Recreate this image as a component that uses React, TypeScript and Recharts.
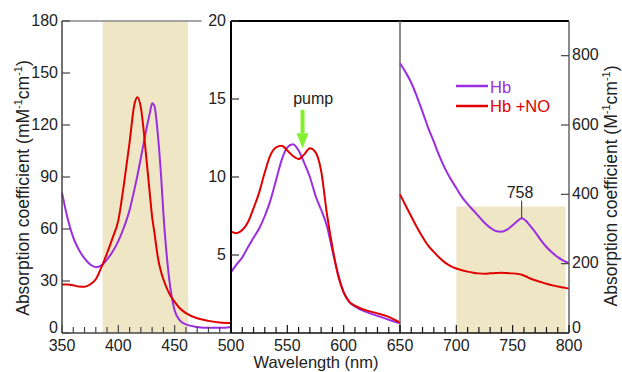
import React from 'react';
import { LineChart, Line, XAxis, YAxis, ReferenceArea, ReferenceLine, ReferenceDot } from 'recharts';

// ---- Panel 1: Soret region (350-500 nm), mM^-1 cm^-1
const soretNm = [350, 355, 360, 365, 370, 375, 380, 385, 390, 395, 400, 405, 410, 414, 417, 420, 425, 428, 430, 432, 435, 438, 440, 445, 450, 455, 460, 470, 480, 490, 500];
const soretHb = [81, 66, 55, 48, 43, 39.5, 38, 39, 42.5, 47, 53, 61, 71, 82, 91, 101, 118, 127, 132.5, 131, 115, 90, 69, 32, 13, 7, 5, 3.5, 3, 3, 3.5];
const soretHbNO = [28, 28, 27.5, 26.8, 26.7, 28, 31, 38, 46, 55, 65, 86, 110, 131, 136, 130, 100, 80, 67, 58, 44, 35, 31, 23, 18, 14, 11.5, 8.5, 7, 6, 5.7];

// ---- Panel 2: Q-band region (500-650 nm), mM^-1 cm^-1
const qNm = [500, 505, 510, 515, 520, 525, 530, 535, 540, 545, 550, 555, 560, 565, 570, 575, 580, 585, 590, 595, 600, 605, 610, 620, 630, 640, 650];
const qHb = [3.9, 4.4, 4.85, 5.5, 6.1, 6.7, 7.5, 8.5, 9.8, 11.1, 11.9, 12.1, 11.7, 10.9, 10.0, 8.8, 7.9, 6.9, 5.3, 3.8, 2.6, 2.0, 1.7, 1.35, 1.1, 0.85, 0.62];
const qHbNO = [6.5, 6.4, 6.6, 7.1, 8.0, 9.0, 10.3, 11.4, 11.9, 12.0, 11.7, 11.35, 11.15, 11.45, 11.85, 11.6, 10.4, 7.7, 5.5, 3.7, 2.6, 2.0, 1.75, 1.45, 1.26, 1.03, 0.66];

// ---- Panel 3: near-IR region (650-800 nm), M^-1 cm^-1
const nirNm = [650, 655, 660, 665, 670, 675, 680, 685, 690, 695, 700, 705, 710, 715, 720, 725, 730, 735, 740, 745, 750, 755, 758, 762, 765, 770, 775, 780, 785, 790, 795, 800];
const nirHb = [778, 752, 722, 682, 638, 592, 552, 510, 474, 444, 418, 392, 372, 354, 336, 318, 304, 294, 292, 298, 311, 325, 331, 323, 311, 291, 268, 248, 232, 219, 209, 202];
const nirHbNO = [400, 368, 336, 305, 277, 252, 234, 217, 203, 193, 186, 181, 177, 174, 172, 171, 172, 173, 174, 173, 172, 170, 168, 163, 158, 152, 147, 142, 138, 134, 131, 128];

// ---- Axis ticks
const soretXTicks = [350, 360, 370, 380, 390, 400, 410, 420, 430, 440, 450, 460, 470, 480, 490, 500];
const qXTicks = [500, 510, 520, 530, 540, 550, 560, 570, 580, 590, 600, 610, 620, 630, 640, 650];
const nirXTicks = [650, 660, 670, 680, 690, 700, 710, 720, 730, 740, 750, 760, 770, 780, 790, 800];
const soretYTicks = [0, 30, 60, 90, 120, 150, 180];
const qYTicks = [5, 10, 15, 20];
const nirYTicks = [0, 200, 400, 600, 800];

// ---- Shaded bands and annotations
const soretBand = { x1: 386, x2: 462, y1: 0, y2: 180 };
const nirBand = { x1: 700, x2: 797, y1: 0, y2: 365 };
const pumpLabel = { x: 573, y: 14.7, text: 'pump' };
const pumpArrow = { x: 563.5, top: 14.3, headTop: 12.8, tip: 11.84 };
const peakLabel = { x: 756.5, y: 389, text: '758' };
const peakLine = { x: 758, top: 382, bottom: 331 };

const HB_COLOR = '#9A2EE0';
const NO_COLOR = '#E00000';
const BAND_COLOR = '#EFE6C6';
const FONT = '"Liberation Sans", Arial, sans-serif';
const W = 622;
const H = 372;

const toRows = (nm: number[], hb: number[], no: number[]) =>
  nm.map((x, i) => ({ nm: x, hb: hb[i], hbno: no[i] }));

const soretData = toRows(soretNm, soretHb, soretHbNO);
const qData = toRows(qNm, qHb, qHbNO);
const nirData = toRows(nirNm, nirHb, nirHbNO);

const makeXTick = (skip: number[], color: string) => (props: any) => {
  const { x, y, payload } = props;
  const v = payload.value as number;
  const major = v % 50 === 0;
  return (
    <g>
      <line x1={x} x2={x} y1={y} y2={y - (major ? 8 : 6)} stroke={color} strokeWidth={1.2} />
      {major && !skip.includes(v) && (
        <text x={x} y={y + 18} textAnchor="middle" fontSize={16} fontFamily={FONT} fill="#222">
          {v}
        </text>
      )}
    </g>
  );
};

const makeYTick = (side: 'left' | 'right', color: string, gap: number) => (props: any) => {
  const { x, y, payload } = props;
  const dir = side === 'left' ? 1 : -1;
  const lift = payload.value === 0 ? 5 : 0;
  return (
    <g>
      <line x1={x} x2={x + dir * 8} y1={y} y2={y} stroke={color} strokeWidth={1.2} />
      <text
        x={x - dir * gap}
        y={y - lift}
        dy="0.3em"
        textAnchor={side === 'left' ? 'end' : 'start'}
        fontSize={16}
        fontFamily={FONT}
        fill="#222"
      >
        {payload.value}
      </text>
    </g>
  );
};

const abs: React.CSSProperties = { position: 'absolute', left: 0, top: 0 };

export default function App() {
  return (
    <div style={{ position: 'absolute', left: 0, top: 0, width: W, height: H, background: '#fff', fontFamily: FONT }}>
      {/* Panel 1 */}
      <div style={abs}>
        <LineChart width={W} height={H} data={soretData} margin={{ top: 21, right: 391, bottom: 0, left: 0 }}>
          <XAxis
            dataKey="nm"
            type="number"
            domain={[350, 500]}
            ticks={soretXTicks}
            interval={0}
            height={39}
            tickSize={0}
            tickMargin={0}
            tickLine={false}
            axisLine={{ stroke: '#444', strokeWidth: 1.5 }}
            tick={makeXTick([], '#444')}
          />
          <YAxis
            type="number"
            domain={[0, 180]}
            ticks={soretYTicks}
            interval={0}
            width={62}
            tickSize={0}
            tickMargin={0}
            tickLine={false}
            axisLine={{ stroke: '#444', strokeWidth: 1.5 }}
            tick={makeYTick('left', '#444', 4)}
          />
          <ReferenceArea {...soretBand} fill={BAND_COLOR} fillOpacity={1} stroke="none" />
          <ReferenceLine segment={[{ x: 350, y: 180 }, { x: 474, y: 180 }]} stroke="#888" strokeWidth={1.5} />
          <Line dataKey="hb" type="monotone" stroke={HB_COLOR} strokeWidth={2} dot={false} isAnimationActive={false} />
          <Line dataKey="hbno" type="monotone" stroke={NO_COLOR} strokeWidth={2} dot={false} isAnimationActive={false} />
        </LineChart>
      </div>

      {/* Panel 2 */}
      <div style={abs}>
        <LineChart width={W} height={H} data={qData} margin={{ top: 21, right: 222, bottom: 0, left: 0 }}>
          <XAxis
            dataKey="nm"
            type="number"
            domain={[500, 650]}
            ticks={qXTicks}
            interval={0}
            height={39}
            tickSize={0}
            tickMargin={0}
            tickLine={false}
            axisLine={{ stroke: '#111', strokeWidth: 1.5 }}
            tick={makeXTick([500], '#111')}
          />
          <YAxis
            type="number"
            domain={[0, 20]}
            ticks={qYTicks}
            interval={0}
            width={231}
            tickSize={0}
            tickMargin={0}
            tickLine={false}
            axisLine={{ stroke: '#000', strokeWidth: 2 }}
            tick={makeYTick('left', '#333', 5)}
          />
          <ReferenceLine y={20} stroke="#000" strokeWidth={2} />
          <Line dataKey="hb" type="monotone" stroke={HB_COLOR} strokeWidth={2} dot={false} isAnimationActive={false} />
          <Line dataKey="hbno" type="monotone" stroke={NO_COLOR} strokeWidth={2} dot={false} isAnimationActive={false} />
          <ReferenceLine
            segment={[{ x: pumpArrow.x, y: pumpArrow.top }, { x: pumpArrow.x, y: pumpArrow.headTop }]}
            stroke="#84F02C"
            strokeWidth={4}
          />
          <ReferenceDot
            x={pumpArrow.x}
            y={pumpArrow.tip}
            r={6}
            shape={(p: any) => (
              <polygon
                points={`${p.cx - 6},${p.cy - 15} ${p.cx + 6},${p.cy - 15} ${p.cx},${p.cy}`}
                fill="#84F02C"
              />
            )}
          />
          <ReferenceDot
            x={pumpLabel.x}
            y={pumpLabel.y}
            r={1}
            shape={(p: any) => (
              <text x={p.cx} y={p.cy} textAnchor="middle" fontSize={16} fontFamily={FONT} fill="#222">
                {pumpLabel.text}
              </text>
            )}
          />
        </LineChart>
      </div>

      {/* Panel 3 */}
      <div style={abs}>
        <LineChart width={W} height={H} data={nirData} margin={{ top: 21, right: 0, bottom: 0, left: 400 }}>
          <XAxis
            dataKey="nm"
            type="number"
            domain={[650, 800]}
            ticks={nirXTicks}
            interval={0}
            height={39}
            tickSize={0}
            tickMargin={0}
            tickLine={false}
            axisLine={{ stroke: '#111', strokeWidth: 1.5 }}
            tick={makeXTick([650], '#111')}
          />
          <YAxis
            orientation="right"
            type="number"
            domain={[0, 900]}
            ticks={nirYTicks}
            interval={0}
            width={53}
            tickSize={0}
            tickMargin={0}
            tickLine={false}
            axisLine={{ stroke: '#666', strokeWidth: 1.5 }}
            tick={makeYTick('right', '#444', 3)}
          />
          <ReferenceArea {...nirBand} fill={BAND_COLOR} fillOpacity={1} stroke="none" />
          <ReferenceLine y={900} stroke="#000" strokeWidth={2} />
          <ReferenceLine x={650} stroke="#666" strokeWidth={1.5} />
          <Line dataKey="hb" type="monotone" stroke={HB_COLOR} strokeWidth={2} dot={false} isAnimationActive={false} />
          <Line dataKey="hbno" type="monotone" stroke={NO_COLOR} strokeWidth={2} dot={false} isAnimationActive={false} />
          <ReferenceLine
            segment={[{ x: peakLine.x, y: peakLine.top }, { x: peakLine.x, y: peakLine.bottom }]}
            stroke="#333"
            strokeWidth={1}
          />
          <ReferenceDot
            x={peakLabel.x}
            y={peakLabel.y}
            r={1}
            shape={(p: any) => (
              <text x={p.cx} y={p.cy} textAnchor="middle" fontSize={16} fontFamily={FONT} fill="#222">
                {peakLabel.text}
              </text>
            )}
          />
        </LineChart>
      </div>

      {/* Titles and legend */}
      <svg width={W} height={H} style={{ ...abs, pointerEvents: 'none' }}>
        <text x={316} y={368} textAnchor="middle" fontSize={16.5} fontFamily={FONT} fill="#222">
          Wavelength (nm)
        </text>
        <text
          x={29}
          y={188}
          textAnchor="middle"
          fontSize={17.5}
          fontFamily={FONT}
          fill="#222"
          transform="rotate(-90 29 188)"
        >
          Absorption coefficient (mM
          <tspan fontSize={11} dy={-7}>-1</tspan>
          <tspan dy={7}>cm</tspan>
          <tspan fontSize={11} dy={-7}>-1</tspan>
          <tspan dy={7}>)</tspan>
        </text>
        <text
          x={617}
          y={186}
          textAnchor="middle"
          fontSize={17.5}
          fontFamily={FONT}
          fill="#222"
          transform="rotate(-90 617 186)"
        >
          Absorption coefficient (M
          <tspan fontSize={11} dy={-7}>-1</tspan>
          <tspan dy={7}>cm</tspan>
          <tspan fontSize={11} dy={-7}>-1</tspan>
          <tspan dy={7}>)</tspan>
        </text>
        <line x1={456} x2={488} y1={86} y2={86} stroke={HB_COLOR} strokeWidth={2.5} />
        <text x={490} y={92.7} fontSize={16.5} fontFamily={FONT} fill={HB_COLOR}>Hb</text>
        <line x1={456} x2={488} y1={106} y2={106} stroke={NO_COLOR} strokeWidth={2.5} />
        <text x={490} y={112.3} fontSize={16.5} fontFamily={FONT} fill={NO_COLOR}>Hb +NO</text>
      </svg>
    </div>
  );
}
